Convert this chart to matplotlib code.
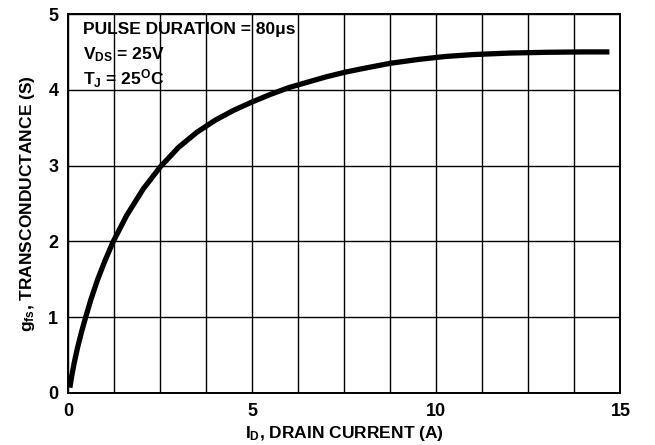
import matplotlib
matplotlib.use('Agg')
import matplotlib.pyplot as plt
import numpy as np

plt.rcParams['font.family'] = 'Liberation Sans'
plt.rcParams['font.weight'] = 'bold'
plt.rcParams['mathtext.fontset'] = 'custom'
plt.rcParams['mathtext.rm'] = 'Liberation Sans:bold'
plt.rcParams['mathtext.bf'] = 'Liberation Sans:bold'
plt.rcParams['mathtext.it'] = 'Liberation Sans:bold'
plt.rcParams['mathtext.default'] = 'bf'

# transconductance curve
i_d = [0.05, 0.10, 0.17, 0.26, 0.37, 0.48, 0.62, 0.80, 1.00, 1.22, 1.59,
       2.04, 2.50, 3.00, 3.50, 4.00, 4.50, 5.00, 5.50, 6.00, 6.50, 7.00,
       7.50, 8.00, 8.75, 9.50, 10.25, 11.0, 12.0, 13.0, 14.0, 14.7]
g_fs = [0.07, 0.22, 0.40, 0.60, 0.81, 1.00, 1.23, 1.49, 1.74, 1.99, 2.34,
        2.69, 2.98, 3.24, 3.44, 3.60, 3.73, 3.84, 3.94, 4.03, 4.10, 4.17,
        4.23, 4.28, 4.35, 4.40, 4.44, 4.465, 4.485, 4.495, 4.50, 4.50]

x_ticks = [0, 5, 10, 15]
y_ticks = [0, 1, 2, 3, 4, 5]

fig = plt.figure(figsize=(6.55, 4.45), dpi=100)
ax = fig.add_axes([0.1038, 0.1169, 0.8435, 0.8516])

ax.plot(i_d, g_fs, color='black', linewidth=3.8, solid_capstyle='butt',
        solid_joinstyle='round', zorder=3)

ax.set_xlim(0, 15)
ax.set_ylim(0, 5)
ax.set_xticks(x_ticks)
ax.set_xticks(np.arange(0, 15.01, 1.25), minor=True)
ax.set_yticks(y_ticks)
ax.grid(True, which='both', color='black', linewidth=1.0)
ax.tick_params(which='both', length=0, labelsize=13, pad=7)
for lab in ax.get_xticklabels() + ax.get_yticklabels():
    lab.set_fontweight('bold')
for s in ax.spines.values():
    s.set_linewidth(1.4)

ax.set_xlabel(r'$I_D$, DRAIN CURRENT (A)', fontsize=12.5, fontweight='bold', labelpad=3)
ax.set_ylabel(r'$g_{fs}$, TRANSCONDUCTANCE (S)', fontsize=12.5, fontweight='bold', labelpad=8)

ax.text(0.027, 0.978, 'PULSE DURATION = 80\u03bcs', transform=ax.transAxes,
        fontsize=12.5, fontweight='bold', va='top')
ax.text(0.027, 0.918, r'$V_{DS}$ = 25V', transform=ax.transAxes,
        fontsize=12.5, fontweight='bold', va='top')
ax.text(0.027, 0.858, r'$T_J$ = 25$^O$C', transform=ax.transAxes,
        fontsize=12.5, fontweight='bold', va='top')

fig.savefig('out.png', dpi=100)
